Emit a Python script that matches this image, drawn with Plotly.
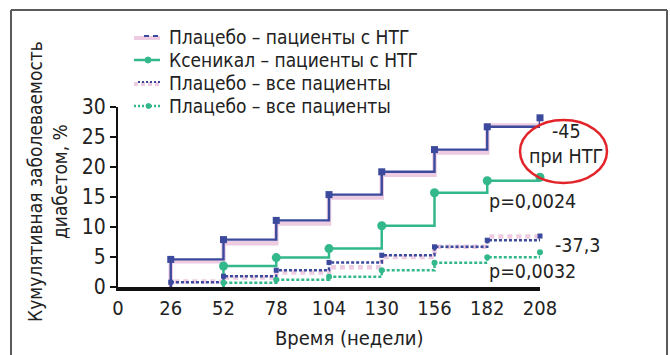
import plotly.graph_objects as go

# ---------------- data ----------------
weeks_tick = [0, 26, 52, 78, 104, 130, 156, 182, 208]
y_ticks = [0, 5, 10, 15, 20, 25, 30]

weeks_ntg_placebo = [26, 26, 52, 78, 104, 130, 156, 182, 208]
placebo_ntg_blue = [0, 4.6, 7.9, 11.1, 15.4, 19.2, 22.9, 26.7, 28.2]
placebo_ntg_pink = [0.8, 4.3, 7.3, 10.6, 14.9, 18.7, 22.4, 26.9, 27.6]

weeks_xen = [52, 52, 78, 104, 130, 156, 182, 208]
xenical_ntg = [0, 3.5, 4.9, 6.4, 10.2, 15.7, 17.7, 18.3]

weeks_all_placebo = [26, 26, 52, 78, 104, 130, 156, 182, 208]
placebo_all_blue = [0, 0.8, 1.8, 2.8, 4.1, 5.3, 6.7, 7.8, 8.5]
placebo_all_pink = [0, 0.9, 1.6, 2.4, 3.3, 5.0, 6.7, 8.4, 8.5]

xenical_all = [0, 0.7, 1.2, 1.7, 2.8, 4.05, 4.95, 5.8]

legend_labels = [
    "Плацебо – пациенты с НТГ",
    "Ксеникал – пациенты с НТГ",
    "Плацебо – все пациенты",
    "Плацебо – все пациенты",
]

# ---------------- style ----------------
BLUE = "#3B4A9C"
PINK = "#EDCBE1"
GREEN = "#33B88B"
RED = "#E3232A"
TXT = "#222"
FONT = "DejaVu Sans Condensed, Liberation Sans Narrow, sans-serif"

W, H = 670, 355
L, R, T, B = 118, 130, 107, 68
PW, PH = W - L - R, H - T - B


def px(xp):
    return (xp - L) / PW


def py(yp):
    return (H - B - yp) / PH


fig = go.Figure()

# Placebo NTG (pink thick under, blue thin over)
fig.add_trace(go.Scatter(x=weeks_ntg_placebo, y=placebo_ntg_pink, mode="lines",
                         line=dict(color=PINK, width=4.5, shape="hv"), cliponaxis=False))
fig.add_trace(go.Scatter(x=weeks_ntg_placebo, y=placebo_ntg_blue, mode="lines",
                         line=dict(color=BLUE, width=2.4, shape="hv"), cliponaxis=False))
fig.add_trace(go.Scatter(x=weeks_ntg_placebo[1:], y=placebo_ntg_blue[1:], mode="markers",
                         marker=dict(color=BLUE, size=7, symbol="square"), cliponaxis=False))

# Xenical NTG
fig.add_trace(go.Scatter(x=weeks_xen, y=xenical_ntg, mode="lines",
                         line=dict(color=GREEN, width=2.5, shape="hv"), cliponaxis=False))
fig.add_trace(go.Scatter(x=weeks_xen[1:], y=xenical_ntg[1:], mode="markers",
                         marker=dict(color=GREEN, size=9), cliponaxis=False))

# Placebo all (pink dashed under, blue dotted over)
fig.add_trace(go.Scatter(x=weeks_all_placebo, y=placebo_all_pink, mode="lines",
                         line=dict(color=PINK, width=4.5, shape="hv", dash="5px,4px"), cliponaxis=False))
fig.add_trace(go.Scatter(x=weeks_all_placebo, y=placebo_all_blue, mode="lines",
                         line=dict(color=BLUE, width=2.5, shape="hv", dash="3px,2px"), cliponaxis=False))
fig.add_trace(go.Scatter(x=weeks_all_placebo[1:], y=placebo_all_blue[1:], mode="markers",
                         marker=dict(color=BLUE, size=5, symbol="square"), cliponaxis=False))

# Xenical all (green dotted)
fig.add_trace(go.Scatter(x=weeks_xen, y=xenical_all, mode="lines",
                         line=dict(color=GREEN, width=2.5, shape="hv", dash="3px,2px"), cliponaxis=False))
fig.add_trace(go.Scatter(x=weeks_xen[1:], y=xenical_all[1:], mode="markers",
                         marker=dict(color=GREEN, size=6), cliponaxis=False))

shapes = []
annotations = []

# frame
frame = dict(color="#5a5a5a", width=2)
shapes.append(dict(type="line", xref="paper", yref="paper", x0=px(11), x1=px(667), y0=py(10), y1=py(10), line=frame))
shapes.append(dict(type="line", xref="paper", yref="paper", x0=px(11), x1=px(11), y0=py(10), y1=py(360), line=frame))
shapes.append(dict(type="line", xref="paper", yref="paper", x0=px(667), x1=px(667), y0=py(10), y1=py(360), line=frame))

# manual legend
rows = [37, 60, 83, 106]
sx0, sx1 = 134, 160
shapes.append(dict(type="line", xref="paper", yref="paper", x0=px(sx0), x1=px(sx1), y0=py(rows[0] + 1), y1=py(rows[0] + 1),
                   line=dict(color=PINK, width=4)))
shapes.append(dict(type="line", xref="paper", yref="paper", x0=px(sx0 + 10), x1=px(sx1), y0=py(rows[0] - 1), y1=py(rows[0] - 1),
                   line=dict(color=BLUE, width=2, dash="5px,4px")))
shapes.append(dict(type="line", xref="paper", yref="paper", x0=px(sx0), x1=px(sx1), y0=py(rows[1]), y1=py(rows[1]),
                   line=dict(color=GREEN, width=2.5)))
shapes.append(dict(type="circle", xref="paper", yref="paper", x0=px(145), x1=px(151), y0=py(rows[1] - 3), y1=py(rows[1] + 3),
                   line=dict(color=GREEN, width=1), fillcolor=GREEN))
shapes.append(dict(type="line", xref="paper", yref="paper", x0=px(sx0), x1=px(sx1), y0=py(rows[2] + 1), y1=py(rows[2] + 1),
                   line=dict(color=PINK, width=4, dash="4px,3px")))
shapes.append(dict(type="line", xref="paper", yref="paper", x0=px(sx0 + 4), x1=px(sx1), y0=py(rows[2] - 1), y1=py(rows[2] - 1),
                   line=dict(color=BLUE, width=2, dash="2px,2px")))
shapes.append(dict(type="line", xref="paper", yref="paper", x0=px(sx0), x1=px(sx1), y0=py(rows[3]), y1=py(rows[3]),
                   line=dict(color=GREEN, width=2.5, dash="2px,2px")))
shapes.append(dict(type="circle", xref="paper", yref="paper", x0=px(146), x1=px(151), y0=py(rows[3] - 2.5), y1=py(rows[3] + 2.5),
                   line=dict(color=GREEN, width=1), fillcolor=GREEN))

for r, lab in zip(rows, legend_labels):
    annotations.append(dict(text=lab, xref="paper", yref="paper", x=px(167), y=py(r), xanchor="left", yanchor="middle",
                            showarrow=False, font=dict(family=FONT, size=19, color=TXT)))

# red ellipse
shapes.append(dict(type="circle", xref="paper", yref="paper", x0=px(520), x1=px(607), y0=py(120), y1=py(183),
                   line=dict(color=RED, width=2.5)))


def note(text, xc, yc):
    annotations.append(dict(text=text, xref="paper", yref="paper", x=px(xc), y=py(yc), xanchor="center", yanchor="middle",
                            showarrow=False, font=dict(family=FONT, size=19.5, color=TXT)))


note("-45", 566, 131)
note("при НТГ", 566, 156)
note("p=0,0024", 532, 201)
note("-37,3", 577, 245)
note("p=0,0032", 532, 271)

# y title
annotations.append(dict(text="Кумулятивная заболеваемость<br>диабетом, %", xref="paper", yref="paper",
                        x=px(47), y=py(182), xanchor="center", yanchor="middle", textangle=-90, showarrow=False,
                        font=dict(family=FONT, size=19, color=TXT)))
# x title
annotations.append(dict(text="Время (недели)", xref="paper", yref="paper", x=px(349), y=py(338),
                        xanchor="center", yanchor="middle", showarrow=False,
                        font=dict(family=FONT, size=20, color=TXT)))

fig.update_layout(
    width=W, height=H, autosize=False,
    margin=dict(l=L, r=R, t=T, b=B, pad=0),
    plot_bgcolor="white", paper_bgcolor="white",
    showlegend=False,
    shapes=shapes, annotations=annotations,
    font=dict(family=FONT, size=20, color=TXT),
)
fig.update_xaxes(range=[0, 208], tickvals=weeks_tick, ticktext=[str(v) for v in weeks_tick],
                 showgrid=False, zeroline=False, showline=True, linecolor="#111", linewidth=3.5,
                 ticks="", tickfont=dict(family=FONT, size=20, color=TXT))
fig.update_yaxes(range=[0, 30], tickvals=y_ticks, showgrid=False, zeroline=False, showline=True,
                 linecolor="#111", linewidth=2, ticks="outside", ticklen=6, tickwidth=2, tickcolor="#111",
                 tickfont=dict(family=FONT, size=21, color=TXT))

fig.write_html("out.html", config={"displayModeBar": False},
               post_script="document.body.style.margin='0px';")
